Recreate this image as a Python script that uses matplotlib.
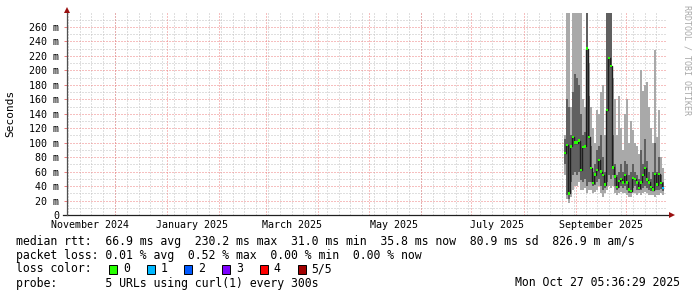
import numpy as np
import pandas as pd
import matplotlib
matplotlib.use("Agg")
import matplotlib.pyplot as plt
from matplotlib.patches import Rectangle

# ---------------- data (milliseconds) ----------------
first_sample = pd.Timestamp("2025-08-25 17:00")
sample_step_h = 28.5
smoke_lo = [55, 22, 16, 25, 35, 40, 40, 45, 35, 35, 38, 30, 35, 35, 30, 32, 35, 40, 30, 25,
            30, 35, 40, 38, 40, 30, 28, 30, 32, 30, 30, 28, 25, 25, 30, 30, 28, 30, 28, 30,
            32, 30, 28, 28, 28, 25, 28, 28, 30, 28]
smoke_mlo = [70, 28, 22, 45, 55, 60, 55, 60, 48, 45, 50, 40, 45, 45, 40, 42, 45, 50, 40, 35,
             38, 45, 55, 50, 55, 40, 35, 38, 40, 38, 40, 35, 30, 30, 38, 40, 35, 35, 35, 38,
             40, 38, 35, 33, 33, 35, 35, 35, 36, 33]
median = [86, 97, 30, 95, 108, 100, 100, 103, 62, 94, 95, 230, 108, 65, 44, 56, 62, 76, 60, 55,
          42, 145, 217, 206, 66, 53, 39, 47, 50, 45, 55, 45, 35, 33, 51, 50, 45, 37, 45, 55,
          65, 49, 45, 39, 35, 57, 42, 57, 44, 37]
smoke_mhi = [105, 160, 150, 110, 170, 195, 190, 180, 140, 110, 115, 280, 165, 95, 60, 70, 90, 95, 110, 80,
             60, 280, 280, 280, 110, 70, 55, 60, 70, 60, 75, 70, 55, 60, 70, 60, 55, 50, 90, 70,
             105, 75, 60, 50, 60, 100, 60, 80, 55, 45]
smoke_hi = [110, 280, 280, 150, 280, 280, 280, 280, 280, 160, 150, 280, 210, 150, 120, 100, 145, 140, 170, 180,
            110, 280, 280, 280, 190, 160, 110, 165, 120, 90, 140, 160, 100, 130, 118, 99, 95, 85, 200, 172,
            180, 184, 150, 120, 100, 228, 108, 145, 80, 65]
loss = [0] * 49 + [1]

y_ticks = [0, 20, 40, 60, 80, 100, 120, 140, 160, 180, 200, 220, 240, 260]
y_tick_labels = ["0"] + [f"{v} m" for v in y_ticks[1:]]
month_labels = ["November 2024", "January 2025", "March 2025", "May 2025", "July 2025", "September 2025"]
month_label_starts = ["2024-11-01", "2025-01-01", "2025-03-01", "2025-05-01", "2025-07-01", "2025-09-01"]

loss_names = ["0", "1", "2", "3", "4", "5/5"]
loss_colors = ["#26ff00", "#00b8ff", "#0059ff", "#7e00ff", "#ff0000", "#a10000"]

legend_rtt = "median rtt:  66.9 ms avg  230.2 ms max  31.0 ms min  35.8 ms now  80.9 ms sd  826.9 m am/s"
legend_loss = "packet loss: 0.01 % avg  0.52 % max  0.00 % min  0.00 % now"
legend_probe = "probe:       5 URLs using curl(1) every 300s"
stamp = "Mon Oct 27 05:36:29 2025"

# ---------------- figure ----------------
W, H = 697, 297
MONO = "DejaVu Sans Mono"
fig = plt.figure(figsize=(W / 100, H / 100), dpi=100)
fig.patch.set_facecolor("white")


def fx(x):
    return x / W


def fy(y):
    return 1 - y / H


ax = fig.add_axes([fx(67), fy(215), 600 / W, (215 - 12.5) / H])
ax.set_facecolor("white")

x_start = pd.Timestamp("2024-11-02 11:00")
x_end = x_start + pd.Timedelta(days=356.9)
ax.set_xlim(x_start, x_end)
ax.set_ylim(0, 280)

# grid
minor_c = "#c0c0c0"
major_c = "#ee8080"
dot = (0, (1, 2))
gkw = dict(lw=0.72, ls=dot, snap=True)
for v in range(10, 290, 20):
    ax.axhline(v, color=minor_c, zorder=0, **gkw)
for v in range(20, 280, 20):
    ax.axhline(v, color=major_c, zorder=0.5, **gkw)
for d in pd.date_range("2024-11-03", x_end, freq="7D"):
    ax.axvline(d, color=minor_c, zorder=0, **gkw)
for d in pd.date_range("2024-12-01", x_end, freq="MS"):
    ax.axvline(d, color=major_c, zorder=0.5, **gkw)

# smoke
dates = [first_sample + pd.Timedelta(hours=sample_step_h * i) for i in range(len(median))]
width = pd.Timedelta(hours=sample_step_h)
lo = np.array(smoke_lo)
hi = np.array(smoke_hi)
mlo = np.array(smoke_mlo)
mhi = np.array(smoke_mhi)
ax.bar(dates, hi - lo, bottom=lo, width=width, color="#a9a9a9", lw=0, zorder=2)
ax.bar(dates, mhi - mlo, bottom=mlo, width=width, color="#606060", lw=0, zorder=3)
ax.step(dates, median, where="mid", color="#1e1e1e", lw=1.0, zorder=4)
mc = [loss_colors[l] for l in loss]
ax.scatter(dates, median, marker="s", s=3.2, c=mc, lw=0, zorder=5)

# axes
for s in ax.spines.values():
    s.set_visible(False)
ax.plot([-0.006, 1.004], [0, 0], transform=ax.transAxes, color="#202020", lw=0.9, clip_on=False, zorder=6)
ax.plot([0, 0], [0, 1.0], transform=ax.transAxes, color="#505050", lw=0.9, clip_on=False, zorder=6)
ax.plot([1.008], [0], transform=ax.transAxes, marker=">", ms=4, color="#9a1010", clip_on=False, zorder=7, mew=0)
ax.plot([0], [1.01], transform=ax.transAxes, marker="^", ms=4, color="#9a1010", clip_on=False, zorder=7, mew=0)

ax.set_yticks(y_ticks)
ax.set_yticklabels(y_tick_labels, fontfamily=MONO, fontsize=7.2)
ax.tick_params(axis="y", length=2.2, width=0.72, color=major_c, pad=3.6)
label_pos = [pd.Timestamp(m) + pd.Timedelta(days=15) for m in month_label_starts]
ax.set_xticks(label_pos)
ax.set_xticklabels(month_labels, fontfamily=MONO, fontsize=7.2)
ax.tick_params(axis="x", length=0, pad=3.6)

# texts
fig.text(fx(10), fy(113), "Seconds", rotation=90, ha="center", va="center", fontfamily=MONO, fontsize=8)
fig.text(fx(687), fy(60), "RRDTOOL / TOBI OETIKER", rotation=-90, ha="center", va="center",
         fontfamily=MONO, fontsize=6, color="#a8a8a8")

LF = 8.3
fig.text(fx(16), fy(241), legend_rtt, ha="left", va="center", fontfamily=MONO, fontsize=LF)
fig.text(fx(16), fy(255), legend_loss, ha="left", va="center", fontfamily=MONO, fontsize=LF)
fig.text(fx(16), fy(269), "loss color:", ha="left", va="center", fontfamily=MONO, fontsize=LF)
for i, (name, col) in enumerate(zip(loss_names, loss_colors)):
    bx = 109 + i * 37.7
    fig.patches.append(Rectangle((fx(bx), fy(273.5)), 8 / W, 9 / H, transform=fig.transFigure,
                                 facecolor=col, edgecolor="black", lw=0.7))
    fig.text(fx(bx + 14), fy(269), name, ha="left", va="center", fontfamily=MONO, fontsize=LF)
fig.text(fx(16), fy(283), legend_probe, ha="left", va="center", fontfamily=MONO, fontsize=LF)
fig.text(fx(680), fy(283), stamp, ha="right", va="center", fontfamily=MONO, fontsize=LF)

fig.savefig("out.png", dpi=100, facecolor="white")
